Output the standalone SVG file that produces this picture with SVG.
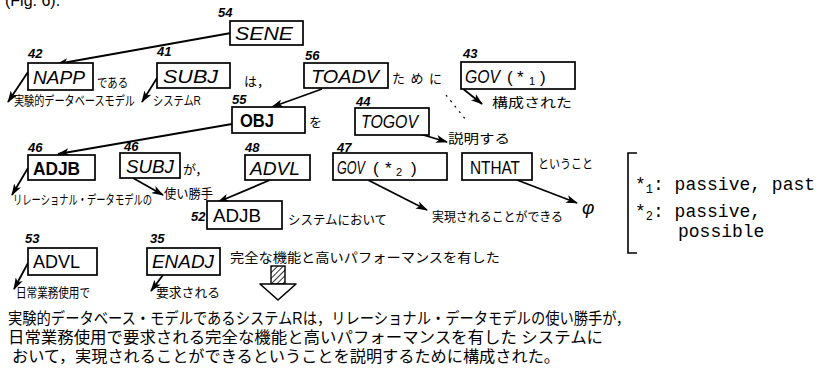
<svg xmlns="http://www.w3.org/2000/svg" width="825" height="381" viewBox="0 0 825 381">
<style>
.box{fill:#fff;stroke:#000;stroke-width:1.7}
.kw{font-family:"Liberation Sans","DejaVu Sans",sans-serif;font-style:italic;font-size:19px;fill:#000}
.kwu{font-family:"Liberation Sans","DejaVu Sans",sans-serif;font-size:18px;fill:#000}
.sym{font-family:"Liberation Sans","DejaVu Sans",sans-serif;font-size:17px;fill:#000}
.sub{font-family:"Liberation Sans","DejaVu Sans",sans-serif;font-size:11px;fill:#000}
.num{font-family:"Liberation Sans","DejaVu Sans",sans-serif;font-style:italic;font-weight:bold;font-size:13px;fill:#000}
.jp{font-family:"Liberation Sans","Noto Sans CJK JP",sans-serif;font-size:13px;fill:#000}
.jpb{font-family:"Liberation Sans","Noto Sans CJK JP",sans-serif;font-size:16px;fill:#000}
.mono{font-family:"Liberation Mono","DejaVu Sans Mono",monospace;font-size:18px;fill:#000}
.con{fill:none;stroke:#000;stroke-width:1.8;marker-end:url(#ah)}
</style>
<defs>
<marker id="ah" viewBox="0 0 12 8" refX="11" refY="4" markerWidth="12" markerHeight="8" markerUnits="userSpaceOnUse" orient="auto">
<path d="M0,0 L12,4 L0,8 L3,4 Z" fill="#000"/>
</marker>
<pattern id="hatch" patternUnits="userSpaceOnUse" width="4" height="4" patternTransform="rotate(45)">
<rect width="4" height="4" fill="#fff"/>
<line x1="0" y1="0" x2="0" y2="4" stroke="#000" stroke-width="1.6"/>
</pattern>
</defs>
<rect width="825" height="381" fill="#fff"/>
<text x="5" y="6" class="jpb">(Fig. 6).</text>

<g id="connectors">
<path class="con" d="M231,33 L57,64"/>
<path class="con" d="M28,72 L8,102"/>
<path class="con" d="M157,78 L142,102"/>
<path class="con" d="M322,89 L272,107"/>
<path class="con" d="M232,124 L58,154"/>
<path class="con" d="M420,134 L447,142"/>
<path class="con" d="M462,88 L482,104"/>
<path class="con" d="M28,168 L12,195"/>
<path class="con" d="M133,178 L163,195"/>
<path class="con" d="M270,180 L218,202"/>
<path class="con" d="M368,180 L427,210"/>
<path class="con" d="M517,180 L577,203"/>
<path class="con" d="M28,263 L14,289"/>
<path class="con" d="M163,275 L151,291"/>
<path d="M446,95 L466,120" fill="none" stroke="#000" stroke-width="1.2" stroke-dasharray="2 5"/>
</g>

<g id="n54">
<text x="218" y="17" class="num">54</text>
<rect class="box" x="230" y="21" width="73" height="24"/>
<text x="235" y="40" class="kw" font-size="20" textLength="58" lengthAdjust="spacingAndGlyphs">SENE</text>
</g>

<g id="n42">
<text x="28" y="58" class="num">42</text>
<rect class="box" x="28" y="63" width="65" height="27"/>
<text x="33" y="84" class="kw" textLength="52" lengthAdjust="spacingAndGlyphs">NAPP</text>
<text x="97" y="87" class="jp" textLength="31" lengthAdjust="spacingAndGlyphs">である</text>
<text x="14" y="105" class="jp" font-size="10.5" textLength="121" lengthAdjust="spacingAndGlyphs">実験的データベースモデル</text>
</g>

<g id="n41">
<text x="157" y="56" class="num">41</text>
<rect class="box" x="157" y="63" width="73" height="25"/>
<text x="163" y="83" class="kw" textLength="55" lengthAdjust="spacingAndGlyphs">SUBJ</text>
<text x="244" y="86" class="jp">は，</text>
<text x="153" y="105" class="jp" font-size="12" textLength="48" lengthAdjust="spacingAndGlyphs">システムR</text>
</g>

<g id="n56">
<text x="305" y="60" class="num">56</text>
<rect class="box" x="304" y="63" width="84" height="25"/>
<text x="311" y="83" class="kw" textLength="68" lengthAdjust="spacingAndGlyphs">TOADV</text>
<text x="392" y="83" class="jp" font-size="15" textLength="50">ために</text>
</g>

<g id="n43">
<text x="463" y="58" class="num">43</text>
<rect class="box" x="461" y="62" width="114" height="27"/>
<text x="465" y="83" class="kw" textLength="35" lengthAdjust="spacingAndGlyphs">GOV</text>
<text x="507" y="83" class="sym">(</text>
<text x="517" y="83" class="sym">*</text>
<text x="529" y="85" class="sub">1</text>
<text x="540" y="83" class="sym">)</text>
<text x="492" y="107" class="jp" font-size="15" textLength="80" lengthAdjust="spacingAndGlyphs">構成された</text>
</g>

<g id="n55">
<text x="232" y="104" class="num">55</text>
<rect class="box" x="232" y="107" width="73" height="26"/>
<text x="240" y="127" class="kwu" font-weight="bold" font-size="16" textLength="34" lengthAdjust="spacingAndGlyphs">OBJ</text>
<text x="309" y="127" class="jp">を</text>
</g>

<g id="n44">
<text x="356" y="106" class="num">44</text>
<rect class="box" x="355" y="108" width="74" height="27"/>
<text x="361" y="128" class="kw" textLength="57" lengthAdjust="spacingAndGlyphs">TOGOV</text>
<text x="448" y="143" class="jp" font-size="15" textLength="62" lengthAdjust="spacingAndGlyphs">説明する</text>
</g>

<g id="n46a">
<text x="28" y="152" class="num">46</text>
<rect class="box" x="28" y="155" width="67" height="25"/>
<text x="33" y="175" class="kwu" font-weight="bold" textLength="47" lengthAdjust="spacingAndGlyphs">ADJB</text>
<text x="13" y="204" class="jp" font-size="10" textLength="139" lengthAdjust="spacingAndGlyphs">リレーショナル・データモデルの</text>
</g>

<g id="n46b">
<text x="124" y="151" class="num">46</text>
<rect class="box" x="120" y="153" width="60" height="25"/>
<text x="126" y="173" class="kw" textLength="48" lengthAdjust="spacingAndGlyphs">SUBJ</text>
<text x="183" y="174" class="jp">が，</text>
<text x="164" y="198" class="jp" font-size="12.5" textLength="49" lengthAdjust="spacingAndGlyphs">使い勝手</text>
</g>

<g id="n48">
<text x="245" y="152" class="num">48</text>
<rect class="box" x="245" y="155" width="65" height="25"/>
<text x="250" y="175" class="kw" textLength="50" lengthAdjust="spacingAndGlyphs">ADVL</text>
</g>

<g id="n47">
<text x="337" y="152" class="num">47</text>
<rect class="box" x="333" y="153" width="114" height="27"/>
<text x="337" y="174" class="kw" font-size="16" textLength="28" lengthAdjust="spacingAndGlyphs">GOV</text>
<text x="373" y="174" class="sym">(</text>
<text x="385" y="174" class="sym">*</text>
<text x="396" y="176" class="sub">2</text>
<text x="411" y="174" class="sym">)</text>
<text x="432" y="221" class="jp" font-size="14" textLength="131" lengthAdjust="spacingAndGlyphs">実現されることができる</text>
</g>

<g id="nNTHAT">
<rect class="box" x="462" y="153" width="70" height="27"/>
<text x="470" y="174" class="kwu" textLength="50" lengthAdjust="spacingAndGlyphs">NTHAT</text>
<text x="538" y="168" class="jp" font-size="12" textLength="55" lengthAdjust="spacingAndGlyphs">ということ</text>
<text x="582" y="214" class="kw" font-size="17">φ</text>
</g>

<g id="n52">
<text x="191" y="221" class="num">52</text>
<rect class="box" x="207" y="201" width="75" height="28"/>
<text x="213" y="222" class="kwu" textLength="48" lengthAdjust="spacingAndGlyphs">ADJB</text>
<text x="288" y="224" class="jp" textLength="99" lengthAdjust="spacingAndGlyphs">システムにおいて</text>
</g>

<g id="n53">
<text x="25" y="243" class="num">53</text>
<rect class="box" x="28" y="248" width="69" height="27"/>
<text x="33" y="268" class="kwu" textLength="47" lengthAdjust="spacingAndGlyphs">ADVL</text>
<text x="16" y="297" class="jp" font-size="11" textLength="74" lengthAdjust="spacingAndGlyphs">日常業務使用で</text>
</g>

<g id="n35">
<text x="150" y="243" class="num">35</text>
<rect class="box" x="147" y="248" width="73" height="27"/>
<text x="152" y="268" class="kw" textLength="62" lengthAdjust="spacingAndGlyphs">ENADJ</text>
<text x="156" y="297" class="jp" font-size="12" textLength="64" lengthAdjust="spacingAndGlyphs">要求される</text>
<text x="230" y="262" class="jp" font-size="14" textLength="270" lengthAdjust="spacingAndGlyphs">完全な機能と高いパフォーマンスを有した</text>
</g>

<g id="bigarrow">
<rect x="271" y="266" width="14" height="18" fill="url(#hatch)" stroke="#000" stroke-width="1.4"/>
<path d="M260,284 L296,284 L278,300 Z" fill="#fff" stroke="#000" stroke-width="1.6" stroke-linejoin="round"/>
</g>

<g id="summary">
<text x="8" y="324" class="jpb" textLength="622" lengthAdjust="spacingAndGlyphs">実験的データベース・モデルであるシステムRは，リレーショナル・データモデルの使い勝手が，</text>
<text x="8" y="343" class="jpb" textLength="595" lengthAdjust="spacingAndGlyphs">日常業務使用で要求される完全な機能と高いパフォーマンスを有した システムに</text>
<text x="12" y="362" class="jpb" textLength="548" lengthAdjust="spacingAndGlyphs">おいて，実現されることができるということを説明するために構成された。</text>
</g>

<g id="legend">
<path d="M637,153 L628,153 L628,253 L637,253" fill="none" stroke="#000" stroke-width="1.6"/>
<text x="635" y="190" class="mono">*<tspan font-size="12" dy="3">1</tspan><tspan dy="-3">: passive, past</tspan></text>
<text x="635" y="217" class="mono">*<tspan font-size="12" dy="3">2</tspan><tspan dy="-3">: passive,</tspan></text>
<text x="678" y="237" class="mono">possible</text>
</g>
</svg>
